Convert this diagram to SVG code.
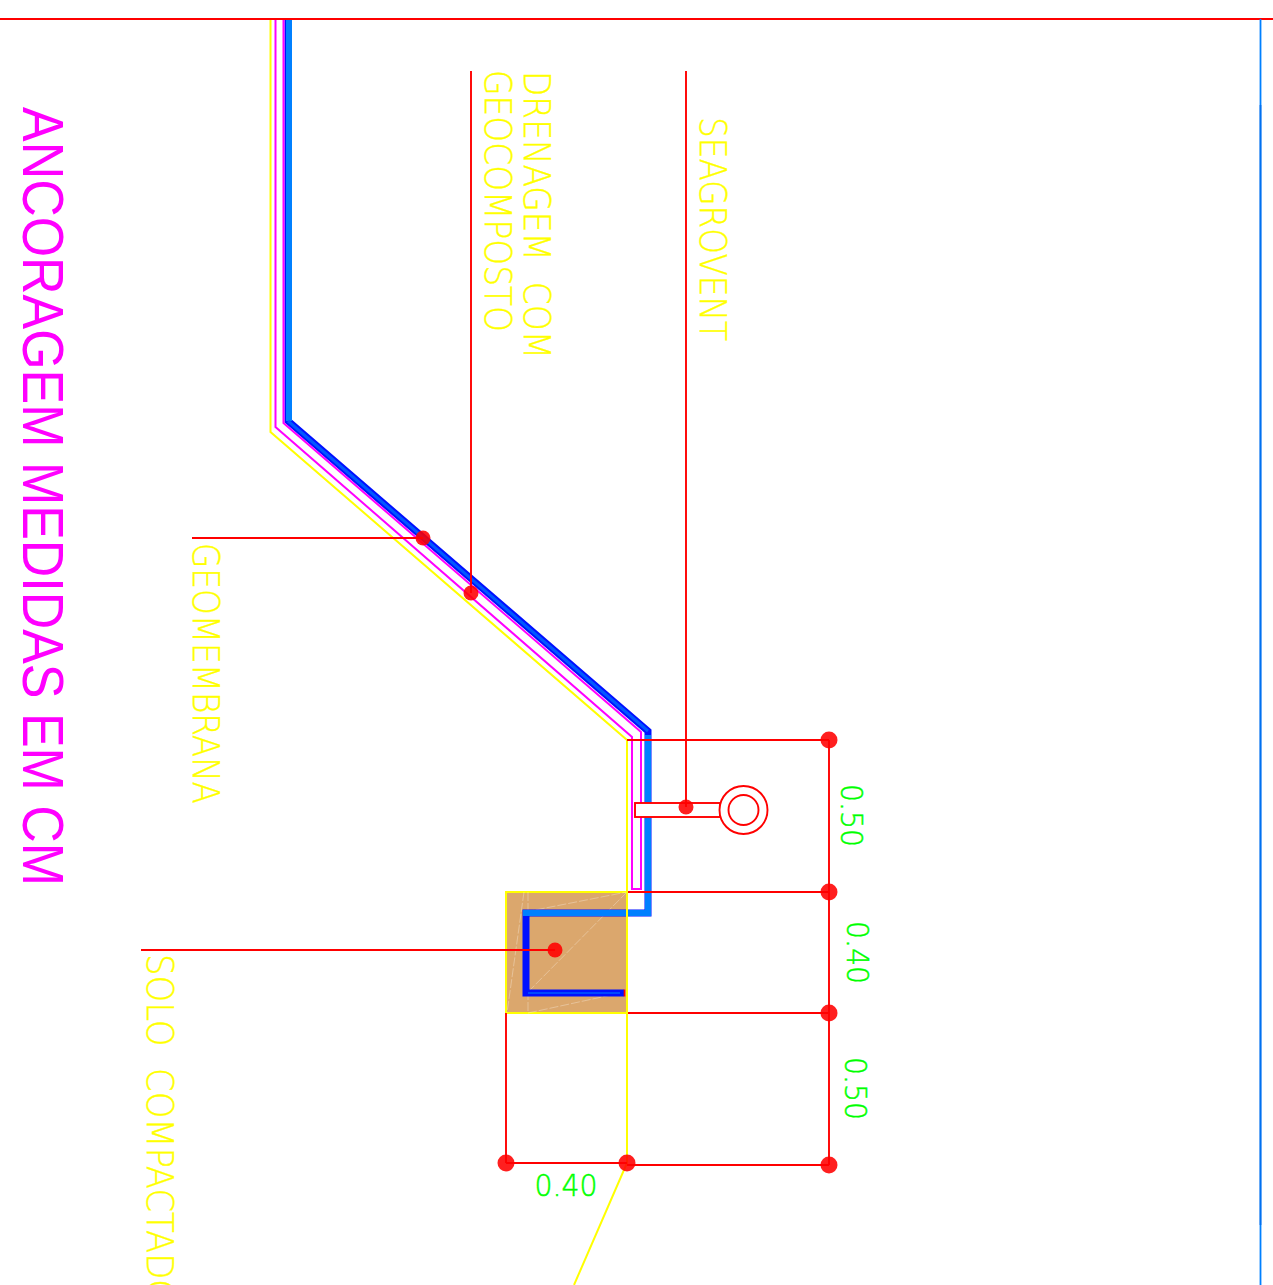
<svg xmlns="http://www.w3.org/2000/svg" width="1273" height="1285" viewBox="0 0 1273 1285">
<style>
.r{fill:none;stroke:#ff0000;stroke-width:1.9}
.y{fill:none;stroke:#ffff00;stroke-width:2}
.m{fill:none;stroke:#ff00ff;stroke-width:2}
.d{fill:#ff0000;opacity:.88}
.w{fill:none;stroke:#ffffff;stroke-opacity:.3;stroke-width:1;stroke-dasharray:9 2}
text{font-family:"DejaVu Sans","Liberation Sans",sans-serif;font-weight:200;white-space:pre}
.ty{fill:#ffff00;stroke:#ffff00;stroke-width:.4;font-size:38px}
.tg{fill:#00ff00;stroke:#00ff00;stroke-width:.5;font-size:30px}
.tm{fill:#ff00ff;font-size:58px;font-family:"Liberation Sans",sans-serif;font-weight:400}
</style>
<rect width="1273" height="1285" fill="#ffffff"/>
<g id="soil">
<rect x="506" y="892" width="121" height="121" fill="#dba76d" stroke="#ffff00" stroke-width="2"/>
<path class="w" d="M528 892V1013M524 892L507 1013M528 992L627 892M528 1013L625 992M627 892V1013M525 912L627 892"/>
</g>
<g id="geomembrane">
<path d="M288 19V421L648 731V913H526V993H624" fill="none" stroke="#0010ff" stroke-width="7"/>
<path d="M289 19V421M648 735V913H523" fill="none" stroke="#0080ff" stroke-width="6"/>
<path d="M288 421L648 731" fill="none" stroke="#0058ff" stroke-width="3"/>
<path d="M528 993H620" fill="none" stroke="#0048ff" stroke-width="2"/>
<path d="M624.500 989.500V996.500" stroke="#ff0000" stroke-width="1.600"/>
</g>
<g id="drainage">
<path class="m" d="M275.500 19V427L632 737V889H641V732L283.500 423V19Z"/>
</g>
<g id="subgrade">
<path class="y" d="M270.500 19V432L627 740V1163L574 1285"/>
</g>
<g id="seagrovent">
<rect x="635" y="803" width="85" height="14" fill="#ffffff" stroke="#ff0000" stroke-width="1.900"/>
<circle cx="743.500" cy="810" r="24" fill="#ffffff" stroke="#ff0000" stroke-width="1.900"/>
<circle cx="743.500" cy="810" r="15" fill="#ffffff" stroke="#ff0000" stroke-width="1.900"/>
</g>
<g id="connectors">
<path class="r" d="M0 19H1273"/>
<path d="M1260.500 19V105" fill="none" stroke="#0080ff" stroke-width="1.800"/>
<path d="M1260.500 105V1225" fill="none" stroke="#0070f0" stroke-width="2.200"/>
<path d="M1260.500 1225V1285" fill="none" stroke="#0080ff" stroke-width="1.800"/>
<path class="r" d="M192 538H423M471 71V593M686 71V807M141 950H555M627 740H829M628 892H829M628 1013H829M829 740V1165M506 1013V1163M506 1163H627M627 1165H829"/>
<circle class="d" cx="423" cy="538" r="7.500"/>
<circle class="d" cx="471" cy="593" r="7.500"/>
<circle class="d" cx="686" cy="807" r="7.500"/>
<circle class="d" cx="555" cy="950" r="7.500"/>
<circle class="d" cx="829" cy="740" r="8.500"/>
<circle class="d" cx="829" cy="892" r="8.500"/>
<circle class="d" cx="829" cy="1013" r="8.500"/>
<circle class="d" cx="829" cy="1165" r="8.500"/>
<circle class="d" cx="506" cy="1163" r="8.500"/>
<circle class="d" cx="627" cy="1163" r="8.500"/>
</g>
<g id="labels">
<text class="tm" transform="translate(23 107) rotate(90)" textLength="779" lengthAdjust="spacingAndGlyphs">ANCORAGEM MEDIDAS EM CM</text>
<text class="ty" transform="translate(524 71) rotate(90)" textLength="288" lengthAdjust="spacingAndGlyphs">DRENAGEM  COM</text>
<text class="ty" transform="translate(485 70) rotate(90)" textLength="262" lengthAdjust="spacingAndGlyphs">GEOCOMPOSTO</text>
<text class="ty" transform="translate(700 117) rotate(90)" textLength="224" lengthAdjust="spacingAndGlyphs">SEAGROVENT</text>
<text class="ty" transform="translate(193 543) rotate(90)" textLength="261" lengthAdjust="spacingAndGlyphs">GEOMEMBRANA</text>
<text class="ty" transform="translate(147 954) rotate(90)" textLength="352" lengthAdjust="spacingAndGlyphs">SOLO  COMPACTADO</text>
<text class="tg" transform="translate(841 784) rotate(90)" textLength="63" lengthAdjust="spacingAndGlyphs">0.50</text>
<text class="tg" transform="translate(847 921) rotate(90)" textLength="63" lengthAdjust="spacingAndGlyphs">0.40</text>
<text class="tg" transform="translate(845 1057) rotate(90)" textLength="63" lengthAdjust="spacingAndGlyphs">0.50</text>
<text class="tg" x="534.500" y="1196" textLength="63" lengthAdjust="spacingAndGlyphs">0.40</text>
</g>
</svg>
